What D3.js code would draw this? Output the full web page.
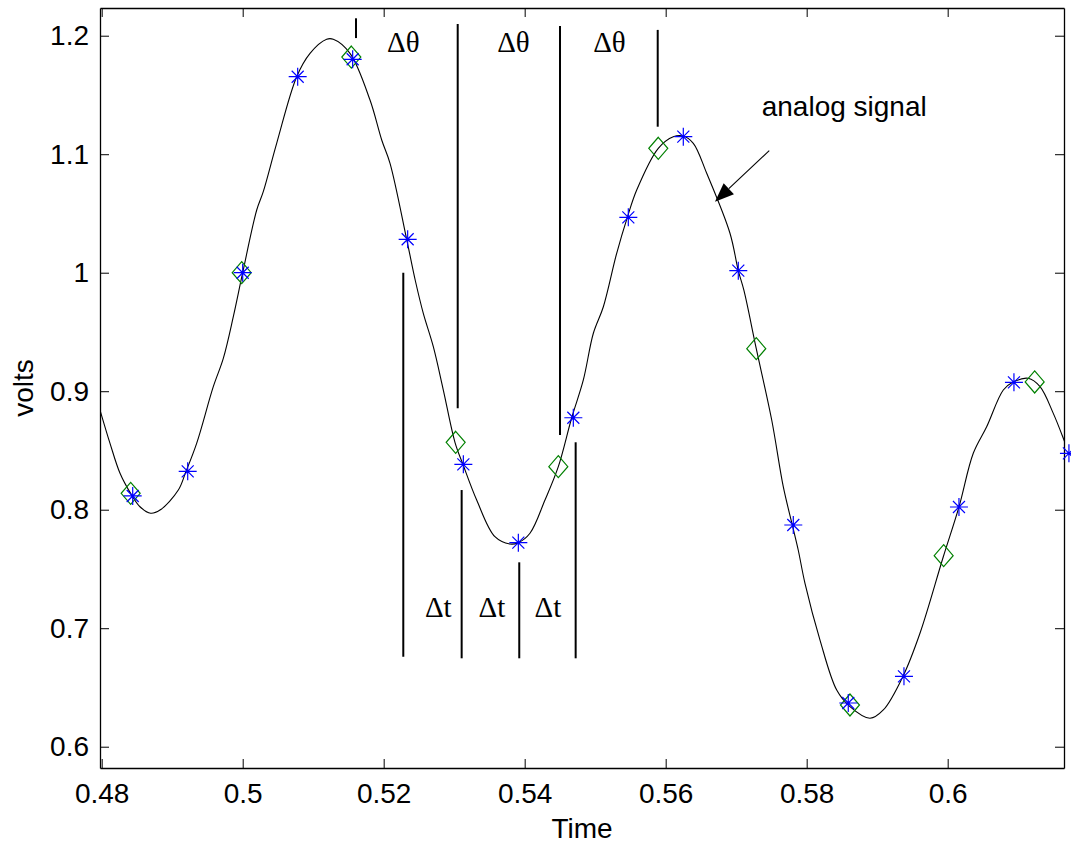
<!DOCTYPE html>
<html>
<head>
<meta charset="utf-8">
<script src="https://cdn.jsdelivr.net/npm/d3@7"></script>
<style>
  body { margin: 0; background: #fff; }
  text { font-family: "Liberation Sans", Arial, sans-serif; }
  .greek { font-family: "Liberation Serif", "Times New Roman", serif; }
</style>
</head>
<body>
<div id="chart"></div>
<script>
// analog signal
var signalT = [0.47976, 0.48118, 0.4826, 0.4841, 0.48543, 0.48695, 0.48827, 0.49087, 0.49196, 0.49347,
    0.49583, 0.49725, 0.49867, 0.5, 0.50199, 0.50292, 0.50482, 0.50766, 0.50955, 0.51191,
    0.51285, 0.51522, 0.51806, 0.51972, 0.5209, 0.52326, 0.5245, 0.52562, 0.52704, 0.52846,
    0.53011, 0.53129, 0.53319, 0.53578, 0.5379, 0.5391, 0.54075, 0.54288, 0.54477, 0.54667,
    0.54832, 0.54974, 0.55116, 0.55305, 0.55456, 0.55589, 0.55895, 0.56108, 0.5625, 0.56392,
    0.56582, 0.56912, 0.5703, 0.5711, 0.57285, 0.57504, 0.57668, 0.57796, 0.5788, 0.57976,
    0.58189, 0.58426, 0.58614, 0.58898, 0.59087, 0.59366, 0.59607, 0.59938, 0.6016, 0.60363,
    0.60553, 0.60789, 0.60922, 0.61143, 0.6131, 0.61498, 0.6165, 0.6172];
var signalV = [0.8841, 0.856, 0.8307, 0.8138, 0.8025, 0.797, 0.7997, 0.8166, 0.8324, 0.856,
    0.9038, 0.9277, 0.9629, 1.0, 1.0529, 1.0684, 1.1092, 1.1654, 1.1851, 1.197,
    1.197, 1.1851, 1.1457, 1.112, 1.0923, 1.0282, 0.993, 0.9657, 0.9376, 0.901,
    0.8569, 0.8375, 0.8082, 0.7772, 0.7711, 0.7722, 0.7801, 0.8082, 0.8363, 0.8776,
    0.9095, 0.9489, 0.9713, 1.0164, 1.0467, 1.0698, 1.105, 1.1148, 1.1154, 1.1092,
    1.0839, 1.0333, 1.0017, 0.985, 0.9359, 0.8757, 0.8194, 0.7871, 0.766, 0.7379,
    0.69, 0.6478, 0.6338, 0.624, 0.631, 0.6594, 0.6957, 0.7603, 0.8023, 0.8476,
    0.87, 0.901, 0.9075, 0.9109, 0.9038, 0.8813, 0.8588, 0.8476];

// uniform samples (blue stars)
var uniformT = [0.4844, 0.4922, 0.5, 0.5078, 0.5156, 0.5234, 0.5313, 0.5391, 0.5469, 0.5547,
    0.5625, 0.5703, 0.5781, 0.5859, 0.5938, 0.6016, 0.6094, 0.6172];
var uniformV = [0.8116, 0.8324, 1.0, 1.1654, 1.1801, 1.0282, 0.8383, 0.7722, 0.8776, 1.0467,
    1.1148, 1.0017, 0.7871, 0.6369, 0.6594, 0.8023, 0.9075, 0.8476];

// jittered samples (green diamonds)
var jitterT = [0.48411, 0.49986, 0.51541, 0.53021, 0.54477, 0.55895, 0.57285, 0.58614, 0.59943, 0.61234];
var jitterV = [0.8138, 1.0, 1.182, 0.8569, 0.8363, 1.105, 0.9359, 0.6352, 0.7612, 0.9078];

var xTicks = [0.48, 0.5, 0.52, 0.54, 0.56, 0.58, 0.6];
var xTickLabels = ["0.48", "0.5", "0.52", "0.54", "0.56", "0.58", "0.6"];
var yTicks = [0.6, 0.7, 0.8, 0.9, 1.0, 1.1, 1.2];
var yTickLabels = ["0.6", "0.7", "0.8", "0.9", "1", "1.1", "1.2"];

// annotation marks (data units)
var thetaLineT = [0.51607, 0.5305, 0.54501, 0.55887];
var thetaLineFrom = [1.198, 0.8856, 0.863, 1.1232];
var thetaLineTo = [1.2147, 1.2099, 1.2082, 1.2049];
var thetaLabelT = [0.52278, 0.53841, 0.55203];
var thetaLabelV = 1.1865;

var dtLineT = [0.52278, 0.53106, 0.53923, 0.54723];
var dtLineFrom = [0.676, 0.6746, 0.6746, 0.6746];
var dtLineTo = [1.0, 0.8166, 0.7556, 0.8569];
var dtLabelT = [0.52775, 0.53536, 0.5433];
var dtLabelV = 0.7097;

var arrowFrom = [0.57469, 1.103];
var arrowTip = [0.56699, 1.0599];
var arrowText = [0.57362, 1.1322];

var margin = {top: 8, right: 7, bottom: 78, left: 100},
    width = 1071 - margin.left - margin.right,
    height = 846 - margin.top - margin.bottom;

var svg = d3.select("#chart")
    .append("svg")
    .attr("width", width + margin.left + margin.right)
    .attr("height", height + margin.top + margin.bottom)
    .append("g")
    .attr("transform", "translate(" + margin.left + "," + margin.top + ")");

var x = d3.scaleLinear().domain([0.47976, 0.6165]).range([0, width]);
var y = d3.scaleLinear().domain([0.58203, 1.22338]).range([height, 0]);

svg.append("clipPath").attr("id", "plotClip")
    .append("rect").attr("width", width).attr("height", height);

// axes, ticks inside on every side
svg.append("g")
    .attr("transform", "translate(0," + height + ")")
    .call(d3.axisBottom(x).tickValues(xTicks)
        .tickFormat(function(d, i) { return xTickLabels[i]; })
        .tickSizeInner(-9).tickSizeOuter(0).tickPadding(15.5));
svg.append("g")
    .call(d3.axisTop(x).tickValues(xTicks).tickFormat("")
        .tickSizeInner(-9).tickSizeOuter(0));
svg.append("g")
    .call(d3.axisLeft(y).tickValues(yTicks)
        .tickFormat(function(d, i) { return yTickLabels[i]; })
        .tickSizeInner(-9).tickSizeOuter(0).tickPadding(11));
svg.append("g")
    .attr("transform", "translate(" + width + ",0)")
    .call(d3.axisRight(y).tickValues(yTicks).tickFormat("")
        .tickSizeInner(-9).tickSizeOuter(0));

svg.selectAll(".tick text")
    .attr("font-family", "Liberation Sans, Arial, sans-serif")
    .attr("font-size", 28)
    .attr("fill", "#000");
svg.selectAll(".domain").attr("stroke", "#000").attr("stroke-width", 1.3);
svg.selectAll(".tick line").attr("stroke", "#000");

// axis titles
svg.append("text")
    .attr("x", width / 2)
    .attr("y", height + 70)
    .attr("text-anchor", "middle")
    .attr("font-size", 28)
    .text("Time");
svg.append("text")
    .attr("transform", "translate(" + (33 - margin.left) + "," + (height / 2) + ") rotate(-90)")
    .attr("text-anchor", "middle")
    .attr("font-size", 28)
    .text("volts");

// signal
var signal = signalT.map(function(t, i) { return [t, signalV[i]]; });
var line = d3.line()
    .x(function(d) { return x(d[0]); })
    .y(function(d) { return y(d[1]); })
    .curve(d3.curveCatmullRom.alpha(0.5));
svg.append("path")
    .datum(signal)
    .attr("clip-path", "url(#plotClip)")
    .attr("fill", "none")
    .attr("stroke", "#000")
    .attr("stroke-width", 1.1)
    .attr("d", line);

// annotation lines
svg.selectAll(".thetaLine")
    .data(thetaLineT)
    .enter().append("line")
    .attr("class", "thetaLine")
    .attr("x1", function(d) { return x(d); })
    .attr("x2", function(d) { return x(d); })
    .attr("y1", function(d, i) { return y(thetaLineFrom[i]); })
    .attr("y2", function(d, i) { return y(thetaLineTo[i]); })
    .attr("stroke", "#000").attr("stroke-width", 2);
svg.selectAll(".dtLine")
    .data(dtLineT)
    .enter().append("line")
    .attr("class", "dtLine")
    .attr("x1", function(d) { return x(d); })
    .attr("x2", function(d) { return x(d); })
    .attr("y1", function(d, i) { return y(dtLineFrom[i]); })
    .attr("y2", function(d, i) { return y(dtLineTo[i]); })
    .attr("stroke", "#000").attr("stroke-width", 2);

svg.selectAll(".thetaLabel")
    .data(thetaLabelT)
    .enter().append("text")
    .attr("class", "greek")
    .attr("x", function(d) { return x(d); })
    .attr("y", y(thetaLabelV))
    .attr("text-anchor", "middle")
    .attr("font-size", 29)
    .text("\u0394\u03b8");
svg.selectAll(".dtLabel")
    .data(dtLabelT)
    .enter().append("text")
    .attr("class", "greek")
    .attr("x", function(d) { return x(d); })
    .attr("y", y(dtLabelV))
    .attr("text-anchor", "middle")
    .attr("font-size", 29)
    .text("\u0394t");

// arrow to the signal
var ax0 = x(arrowFrom[0]), ay0 = y(arrowFrom[1]);
var ax1 = x(arrowTip[0]), ay1 = y(arrowTip[1]);
var ang = Math.atan2(ay1 - ay0, ax1 - ax0);
var headLen = 19, headHalf = 7.5;
var bx = ax1 - headLen * Math.cos(ang), by = ay1 - headLen * Math.sin(ang);
svg.append("line")
    .attr("x1", ax0).attr("y1", ay0).attr("x2", bx).attr("y2", by)
    .attr("stroke", "#000").attr("stroke-width", 1.1);
svg.append("path")
    .attr("d", "M" + ax1 + "," + ay1 +
        "L" + (bx - headHalf * Math.sin(ang)) + "," + (by + headHalf * Math.cos(ang)) +
        "L" + (bx + headHalf * Math.sin(ang)) + "," + (by - headHalf * Math.cos(ang)) + "Z")
    .attr("fill", "#000");
svg.append("text")
    .attr("x", x(arrowText[0]))
    .attr("y", y(arrowText[1]))
    .attr("font-size", 28)
    .text("analog signal");

// green diamonds
svg.selectAll(".diamond")
    .data(jitterT)
    .enter().append("path")
    .attr("class", "diamond")
    .attr("transform", function(d, i) { return "translate(" + x(d) + "," + y(jitterV[i]) + ")"; })
    .attr("d", "M0,-11L9.5,0L0,11L-9.5,0Z")
    .attr("fill", "none")
    .attr("stroke", "#008000")
    .attr("stroke-width", 1.2);

// blue stars
svg.selectAll(".star")
    .data(uniformT)
    .enter().append("path")
    .attr("class", "star")
    .attr("transform", function(d, i) { return "translate(" + x(d) + "," + y(uniformV[i]) + ")"; })
    .attr("d", "M-9,0H9M0,-9V9M-6,-6L6,6M-6,6L6,-6")
    .attr("fill", "none")
    .attr("stroke", "#0000ff")
    .attr("stroke-width", 1.2);
</script>
</body>
</html>
